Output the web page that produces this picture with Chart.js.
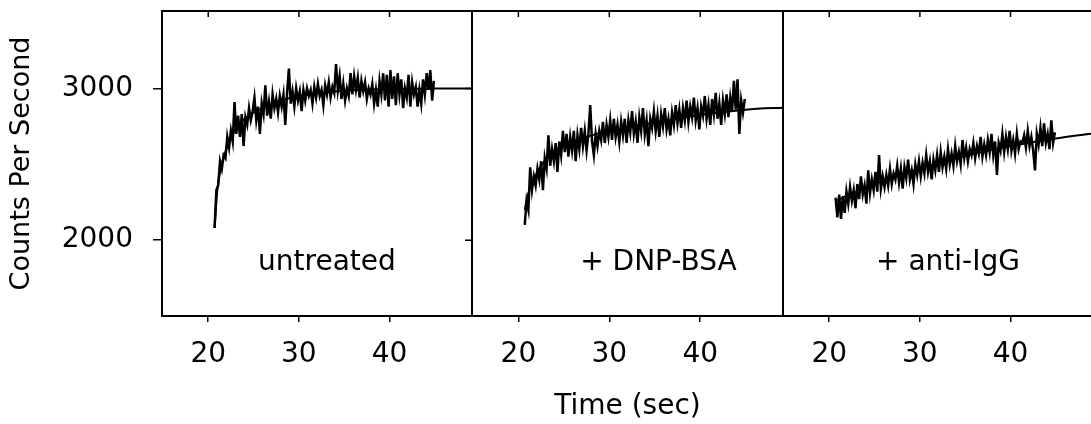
<!DOCTYPE html>
<html>
<head>
<meta charset="utf-8">
<script src="https://cdn.jsdelivr.net/npm/chart.js@4.4.0/dist/chart.umd.min.js"></script>
<style>
  html, body { margin: 0; padding: 0; background: #fff; overflow: hidden; }
  #wrap { position: relative; width: 1091px; height: 424px; overflow: hidden; background: #fff; }
  canvas { position: absolute; top: 0; }
</style>
</head>
<body>
<div id="wrap">
  <canvas id="c1" width="480" height="424" style="left:0px"></canvas>
  <canvas id="c2" width="330" height="424" style="left:464px"></canvas>
  <canvas id="c3" width="330" height="424" style="left:775px"></canvas>
</div>
<script>
// ---------------- data ----------------
const time = [
  20.7,20.9,21.1,21.3,21.5,21.7,21.9,22.1,22.3,22.5,
  22.7,22.9,23.1,23.3,23.5,23.7,23.9,24.1,24.3,24.5,
  24.7,24.9,25.1,25.3,25.5,25.7,25.9,26.1,26.3,26.5,
  26.7,26.9,27.1,27.3,27.5,27.7,27.9,28.1,28.3,28.5,
  28.7,28.9,29.1,29.3,29.5,29.7,29.9,30.1,30.3,30.5,
  30.7,30.9,31.1,31.3,31.5,31.7,31.9,32.1,32.3,32.5,
  32.7,32.9,33.1,33.3,33.5,33.7,33.9,34.1,34.3,34.5,
  34.7,34.9,35.1,35.3,35.5,35.7,35.9,36.1,36.3,36.5,
  36.7,36.9,37.1,37.3,37.5,37.7,37.9,38.1,38.3,38.5,
  38.7,38.9,39.1,39.3,39.5,39.7,39.9,40.1,40.3,40.5,
  40.7,40.9,41.1,41.3,41.5,41.7,41.9,42.1,42.3,42.5,
  42.7,42.9,43.1,43.3,43.5,43.7,43.9,44.1,44.3,44.5,
  44.7,44.9
];
const countsUntreated = [
  2080,2330,2360,2520,2470,2560,2540,2680,2610,2720,
  2650,2910,2700,2820,2680,2830,2620,2810,2760,2870,
  2790,2850,2940,2790,2880,2700,2900,2830,3020,2820,
  2910,2800,2960,2870,2930,2840,2950,2880,2960,2760,
  2970,3130,2900,2980,2880,3000,2920,2980,2850,2990,
  2920,3000,2950,2990,2900,3010,2940,3030,2950,2990,
  2890,3020,2960,3040,2940,3010,2970,3160,2990,3080,
  2930,3030,2920,3000,2950,3100,2960,3080,2990,3070,
  2940,3050,2980,3040,2930,3000,2960,3030,2900,2990,
  2880,3050,2960,3100,2920,3090,2880,3120,2930,3080,
  2890,3100,2960,3060,2870,3000,2940,3090,2880,3040,
  2960,3010,2880,2990,2900,3060,2960,3100,2990,3120,
  2920,3050
];
const countsDnpBsa = [
  2100,2260,2200,2480,2330,2420,2360,2470,2400,2520,
  2330,2540,2470,2690,2490,2600,2520,2640,2450,2650,
  2560,2720,2580,2700,2550,2680,2590,2720,2520,2690,
  2600,2740,2620,2720,2590,2700,2890,2650,2560,2700,
  2620,2720,2660,2780,2640,2760,2680,2790,2660,2800,
  2680,2760,2650,2780,2690,2800,2640,2790,2710,2850,
  2700,2780,2640,2810,2720,2870,2700,2790,2620,2800,
  2740,2850,2720,2820,2680,2830,2750,2870,2730,2800,
  2690,2840,2760,2890,2770,2860,2740,2870,2790,2920,
  2780,2880,2810,2940,2790,2870,2730,2880,2820,2950,
  2800,2890,2760,2930,2830,2970,2800,2900,2760,2920,
  2830,2960,2810,2940,2850,3050,2860,3060,2700,2920,
  2840,2930
];
const countsAntiIgG = [
  2280,2150,2300,2140,2290,2180,2320,2240,2350,2260,
  2330,2210,2370,2270,2420,2300,2360,2240,2460,2310,
  2400,2330,2450,2320,2560,2340,2420,2350,2430,2360,
  2470,2370,2440,2400,2490,2380,2470,2340,2480,2410,
  2530,2400,2460,2370,2500,2430,2520,2420,2510,2440,
  2560,2450,2520,2400,2530,2460,2560,2450,2580,2480,
  2550,2470,2600,2500,2570,2490,2620,2520,2580,2500,
  2660,2540,2610,2520,2600,2560,2640,2540,2620,2570,
  2680,2550,2630,2560,2660,2580,2700,2560,2650,2430,
  2640,2590,2700,2580,2680,2600,2720,2590,2660,2570,
  2700,2600,2650,2640,2690,2610,2720,2620,2680,2590,
  2460,2700,2630,2740,2620,2770,2640,2700,2600,2790,
  2640,2710
];
// fitted curves
const fitTime = [20.7, 21, 21.5, 22, 22.5, 23, 24, 25, 26, 28, 30, 33, 36, 40, 45, 49.5];
const fitUntreated = [2080, 2330, 2500, 2600, 2670, 2730, 2800, 2840, 2870, 2920, 2950, 2975, 2988, 2996, 3000, 3000];
const fitDnpBsa    = [2200, 2290, 2370, 2440, 2490, 2530, 2590, 2625, 2650, 2690, 2720, 2755, 2785, 2825, 2860, 2874];
const fitAntiIgG   = [2260, 2265, 2280, 2295, 2307, 2320, 2345, 2368, 2390, 2435, 2470, 2523, 2570, 2620, 2670, 2706];

const panelLabels = ['untreated', '+ DNP-BSA', '+ anti-IgG'];
const xTickValues = [20, 30, 40];
const yTickValues = [2000, 3000];
const yTitle = 'Counts Per Second';
const xTitle = 'Time (sec)';

// ---------------- rendering ----------------
const FONT = "'DejaVu Sans', 'Liberation Sans', Arial, sans-serif";
const toPts = (xs, ys) => xs.map((t, i) => ({ x: t, y: ys[i] }));

const framePlugin = {
  id: 'frame',
  afterDatasetsDraw(chart, args, opts) {
    const { ctx, chartArea: a, scales } = chart;
    const x = scales.x, y = scales.y;
    ctx.save();
    ctx.strokeStyle = '#000';
    ctx.lineWidth = 2;
    ctx.strokeRect(a.left, a.top, a.right - a.left, a.bottom - a.top);
    ctx.lineWidth = 1.5;
    ctx.beginPath();
    xTickValues.forEach(v => {
      const px = x.getPixelForValue(v);
      ctx.moveTo(px, a.top);
      ctx.lineTo(px, a.top + 6);
    });
    if (opts.rightTicks) {
      yTickValues.forEach(v => {
        const py = y.getPixelForValue(v);
        ctx.moveTo(a.right, py);
        ctx.lineTo(a.right - 7, py);
      });
    }
    ctx.stroke();
    ctx.fillStyle = '#000';
    ctx.font = '28px ' + FONT;
    ctx.textAlign = 'center';
    ctx.textBaseline = 'alphabetic';
    ctx.fillText(opts.label, x.getPixelForValue(opts.labelX), y.getPixelForValue(opts.labelY));
    ctx.restore();
  }
};

function makeChart(id, counts, fit, label, opt) {
  const el = document.getElementById(id);
  return new Chart(el, {
    type: 'line',
    data: {
      datasets: [
        { data: toPts(fitTime, fit), borderColor: '#000', borderWidth: 2, pointRadius: 0, tension: 0.4, cubicInterpolationMode: 'monotone' },
        { data: toPts(time, counts), borderColor: '#000', borderWidth: 2.5, pointRadius: 0, tension: 0 }
      ]
    },
    options: {
      responsive: false,
      animation: false,
      events: [],
      layout: { padding: { left: opt.padLeft, right: opt.padRight, top: 11, bottom: 0 } },
      plugins: {
        legend: { display: false },
        tooltip: { enabled: false },
        frame: { label: label, labelX: opt.labelX, labelY: 1805, rightTicks: opt.rightTicks }
      },
      scales: {
        x: {
          type: 'linear',
          min: 14.9, max: 49.1,
          afterBuildTicks: s => { s.ticks = xTickValues.map(v => ({ value: v })); },
          afterFit: s => { s.height = 108; s.paddingLeft = 0; s.paddingRight = 0; },
          border: { display: false },
          grid: { drawOnChartArea: false, drawTicks: true, tickLength: 6, color: '#000', lineWidth: 1.5 },
          ticks: { color: '#000', font: { family: FONT, size: 28 }, padding: 16, maxRotation: 0, autoSkip: false, callback: v => String(v) },
          title: { display: !!opt.showXTitle, text: xTitle, color: '#000', font: { family: FONT, size: 28 }, padding: { top: 0, bottom: 0 } }
        },
        y: {
          type: 'linear',
          display: !!opt.showY,
          min: 1500, max: 3510,
          afterBuildTicks: s => { s.ticks = yTickValues.map(v => ({ value: v })); },
          afterFit: s => { s.width = opt.showY ? 162 : 0; s.paddingTop = 0; s.paddingBottom = 0; },
          border: { display: false },
          grid: { drawOnChartArea: false, drawTicks: true, tickLength: 9, color: '#000', lineWidth: 1.5 },
          ticks: { color: '#000', font: { family: FONT, size: 28 }, padding: 20, callback: v => String(v) },
          title: { display: true, text: yTitle, color: '#000', font: { family: FONT, size: 27 }, padding: { top: 6, bottom: 0 } }
        }
      }
    },
    plugins: [framePlugin]
  });
}

makeChart('c1', countsUntreated, fitUntreated, panelLabels[0], { padLeft: 0, padRight: 8, labelX: 33.1, showY: true, rightTicks: true });
makeChart('c2', countsDnpBsa, fitDnpBsa, panelLabels[1], { padLeft: 8, padRight: 11, labelX: 35.4, showXTitle: true });
makeChart('c3', countsAntiIgG, fitAntiIgG, panelLabels[2], { padLeft: 8, padRight: 12, labelX: 33.1 });
</script>
</body>
</html>
